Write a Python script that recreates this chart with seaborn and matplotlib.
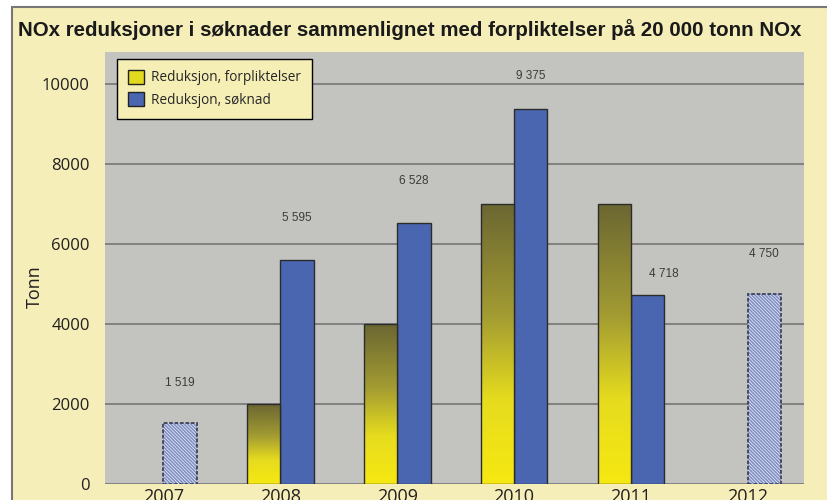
import numpy as np
import pandas as pd
import seaborn as sns
import matplotlib.pyplot as plt
from matplotlib.colors import LinearSegmentedColormap
from matplotlib.patches import Patch, Rectangle

# data
years = ["2007", "2008", "2009", "2010", "2011", "2012"]
forpliktelser = [None, 2000, 4000, 7000, 7000, None]
soknad = [1519, 5595, 6528, 9375, 4718, 4750]
hatched_years = ["2007", "2012"]
value_labels = ["1 519", "5 595", "6 528", "9 375", "4 718", "4 750"]
series_names = ["Reduksjon, forpliktelser", "Reduksjon, søknad"]
title = "NOx reduksjoner i søknader sammenlignet med forpliktelser på 20 000 tonn NOx"

# label nudges (data units) so the numbers sit where they do in the original
label_dy = [1000, 1050, 1050, 830, 530, 1000]
label_dx = [0, 0, 0, 0, 0.137, 0]

rows = []
for yr, f, s in zip(years, forpliktelser, soknad):
    if f is not None:
        rows.append((yr, series_names[0], f))
    rows.append((yr, series_names[1], s))
df = pd.DataFrame(rows, columns=["Aar", "Serie", "Tonn"])

sns.set_theme(style="white")
plt.rcParams["font.family"] = ["Open Sans", "DejaVu Sans"]
plt.rcParams["hatch.linewidth"] = 1.2

fig = plt.figure(figsize=(8.27, 5.0), dpi=100, facecolor="white")
fig.add_artist(Rectangle((12 / 827, -0.1), 1.0, 493 / 500 + 0.1, transform=fig.transFigure,
                         facecolor="#f5eeb9", edgecolor="#777777", lw=1.5, zorder=0))

ax = fig.add_axes([105 / 827, 16 / 500, 699 / 827, 432 / 500])
ax.set_facecolor("#c3c3bf")

sns.barplot(data=df, x="Aar", y="Tonn", hue="Serie", order=years, hue_order=series_names,
            palette=["#e4dc20", "#4b66b0"], width=0.57, gap=0, saturation=1,
            edgecolor="#2b2b2b", linewidth=1, legend=False, ax=ax, zorder=3)

# yellow bars: vertical gradient yellow -> olive
cmap = LinearSegmentedColormap.from_list(
    "oliven", [(0, "#f6e812"), (0.3, "#e6dc1e"), (0.6, "#a39c32"), (1, "#6b6732")])
grad = np.linspace(0, 1, 256).reshape(-1, 1)
for bar in ax.containers[0]:
    x0, y0, w, h = bar.get_x(), bar.get_y(), bar.get_width(), bar.get_height()
    im = ax.imshow(grad, extent=(x0, x0 + w, y0, y0 + h), origin="lower", cmap=cmap,
                   aspect="auto", zorder=3.5, interpolation="bilinear")
    im.set_clip_path(bar)
    bar.set_facecolor("none")
    bar.set_zorder(4)

# hatched bars for 2007 and 2012 (light stripes, dark dashed outline)
for bar in ax.containers[1]:
    idx = int(round(bar.get_x() + bar.get_width() / 2))
    if years[idx] in hatched_years:
        bar.set_facecolor("#f4f5fa")
        bar.set_edgecolor("#8090c4")
        bar.set_hatch("\\" * 10)
        bar.set_linewidth(0)
        ax.add_patch(Rectangle((bar.get_x(), bar.get_y()), bar.get_width(), bar.get_height(),
                               facecolor="none", edgecolor="#3c4258", lw=1.3,
                               linestyle=(0, (2, 1)), zorder=4))

for i, (v, lab) in enumerate(zip(soknad, value_labels)):
    ax.text(i + 0.14 + label_dx[i], v + label_dy[i], lab, ha="center", va="center",
            fontsize=8.5, color="#3b3b3b", family=["Liberation Sans", "DejaVu Sans"])

ax.set_xlim(-0.5, 5.48)
ax.set_ylim(0, 10800)
ax.set_yticks(range(0, 10001, 2000))
ax.yaxis.grid(True, color="#7c7c7c", lw=1.3)
ax.set_axisbelow(True)
ax.tick_params(axis="y", length=0, pad=11, labelsize=12, labelcolor="#231f20")
ax.tick_params(axis="x", length=0, pad=3, labelsize=13, labelcolor="#231f20")
ax.set_xlabel("")
ax.set_ylabel("Tonn", fontsize=13, color="#231f20")
ax.yaxis.set_label_coords(-0.087, 0.456)
for s in ax.spines.values():
    s.set_visible(False)

handles = [Patch(facecolor="#e2da1e", edgecolor="#222222"),
           Patch(facecolor="#4a66b0", edgecolor="#222222")]
leg = ax.legend(handles, series_names, loc="upper left", bbox_to_anchor=(12 / 699, 1 - 7 / 432),
                borderaxespad=0, frameon=True, facecolor="#f5eeb5", edgecolor="black",
                framealpha=1, fancybox=False, fontsize=9.8, handlelength=1.2, handleheight=1.2,
                handletextpad=0.5, borderpad=0.8, labelspacing=0.5)
leg.get_frame().set_linewidth(1)
leg.set_zorder(10)

fig.text(18 / 827, 1 - 30 / 500, title, fontsize=14.8, weight="bold", va="center", ha="left",
         color="#1a1a1a", family=["Liberation Sans Narrow", "Liberation Sans", "DejaVu Sans"])

fig.savefig("out.png", dpi=100, facecolor="white")
